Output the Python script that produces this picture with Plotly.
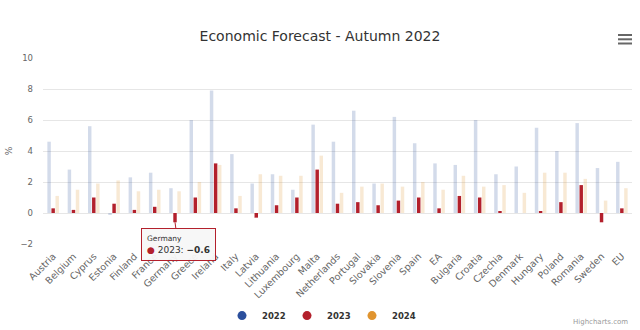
import plotly.graph_objects as go

countries = ["Austria", "Belgium", "Cyprus", "Estonia", "Finland", "France", "Germany",
             "Greece", "Ireland", "Italy", "Latvia", "Lithuania", "Luxembourg", "Malta",
             "Netherlands", "Portugal", "Slovakia", "Slovenia", "Spain", "EA", "Bulgaria",
             "Croatia", "Czechia", "Denmark", "Hungary", "Poland", "Romania", "Sweden", "EU"]
g2022 = [4.6, 2.8, 5.6, -0.1, 2.3, 2.6, 1.6, 6.0, 7.9, 3.8, 1.9, 2.5, 1.5, 5.7, 4.6,
         6.6, 1.9, 6.2, 4.5, 3.2, 3.1, 6.0, 2.5, 3.0, 5.5, 4.0, 5.8, 2.9, 3.3]
g2023 = [0.3, 0.2, 1.0, 0.6, 0.2, 0.4, -0.6, 1.0, 3.2, 0.3, -0.3, 0.5, 1.0, 2.8, 0.6,
         0.7, 0.5, 0.8, 1.0, 0.3, 1.1, 1.0, 0.1, 0.0, 0.1, 0.7, 1.8, -0.6, 0.3]
g2024 = [1.1, 1.5, 1.9, 2.1, 1.4, 1.5, 1.4, 2.0, 3.1, 1.1, 2.5, 2.4, 2.4, 3.7, 1.3,
         1.7, 1.9, 1.7, 2.0, 1.5, 2.4, 1.7, 1.8, 1.3, 2.6, 2.6, 2.2, 0.8, 1.6]
series_names = ["2022", "2023", "2024"]
colors = ["#2b4f9c", "#b3202c", "#e0942f"]
opac = [0.2, 1.0, 0.2]

W, H = 640, 330
ML, MR, MT, MB = 43, 8, 58, 86
FONT = "DejaVu Sans"
PW = W - ML - MR

fig = go.Figure()
for name, vals, col, op in zip(series_names, [g2022, g2023, g2024], colors, opac):
    fig.add_trace(go.Bar(x=countries, y=vals, name=name, marker_color=col,
                         marker_line_width=0, opacity=op, showlegend=False,
                         hoverinfo="skip"))
for name, col in zip(series_names, colors):
    fig.add_trace(go.Scatter(x=[None], y=[None], mode="markers", name=name,
                             marker=dict(color=col, size=9, symbol="circle")))

fig.add_annotation(
    x="Germany", y=-0.6, xref="x", yref="y",
    text=("<span style='font-size:7.5px'>Germany</span><br>"
          "<span style='color:#b3202c'>●</span> 2023: <b>−0.6</b>"),
    align="left", showarrow=True, arrowhead=0, arrowwidth=1, arrowcolor="#b3202c",
    ax=3, ay=22, bgcolor="rgba(247,247,247,0.95)", bordercolor="#b3202c",
    borderwidth=1, borderpad=5, font=dict(size=9, color="#333333", family=FONT),
)

fig.add_annotation(x=1, y=0, xref="paper", yref="paper", xanchor="right", yanchor="bottom",
                   yshift=-(H - 2 - (H - MB)), xshift=MR - 10, text="Highcharts.com",
                   showarrow=False, font=dict(size=7, color="#999999", family=FONT))

# hamburger menu icon
def px_to_paper(px, py):
    return (px - ML) / PW, (H - MB - py) / (H - MT - MB)
for yy in [35, 39.3, 43.5]:
    x0, y0 = px_to_paper(618, yy)
    x1, _ = px_to_paper(632, yy)
    fig.add_shape(type="line", xref="paper", yref="paper", x0=x0, x1=x1, y0=y0, y1=y0,
                  line=dict(color="#666666", width=2))

fig.update_layout(
    width=W, height=H,
    margin=dict(l=ML, r=MR, t=MT, b=MB, autoexpand=False),
    paper_bgcolor="white", plot_bgcolor="white",
    font=dict(family=FONT, color="#666666", size=8.5),
    title=dict(text="Economic Forecast - Autumn 2022", x=0.5, xanchor="center",
               y=1 - 36 / H, yanchor="middle",
               font=dict(size=14, color="#333333", family=FONT)),
    barmode="group", bargap=0.4, bargroupgap=0.15,
    showlegend=True,
    legend=dict(orientation="h", x=0.5 - 18 / PW, xanchor="center", y=-0.385,
                yanchor="middle",
                font=dict(size=8.5, color="#333333", weight="bold", family=FONT),
                itemwidth=30, entrywidth=20, entrywidthmode="pixels"),
    xaxis=dict(tickangle=-45, tickfont=dict(size=9.5, color="#666666"),
               showgrid=False, showline=False, ticks="", zeroline=False,
               automargin=False, ticklabelstandoff=4),
    yaxis=dict(range=[-2, 10], dtick=2, showgrid=True, gridcolor="#e6e6e6",
               gridwidth=1, zeroline=False, tickfont=dict(size=8.5, color="#666666"),
               ticklabelstandoff=9, automargin=False,
               title=dict(text="%", font=dict(size=9, color="#666666"), standoff=6)),
)

fig.write_html("out.html")
